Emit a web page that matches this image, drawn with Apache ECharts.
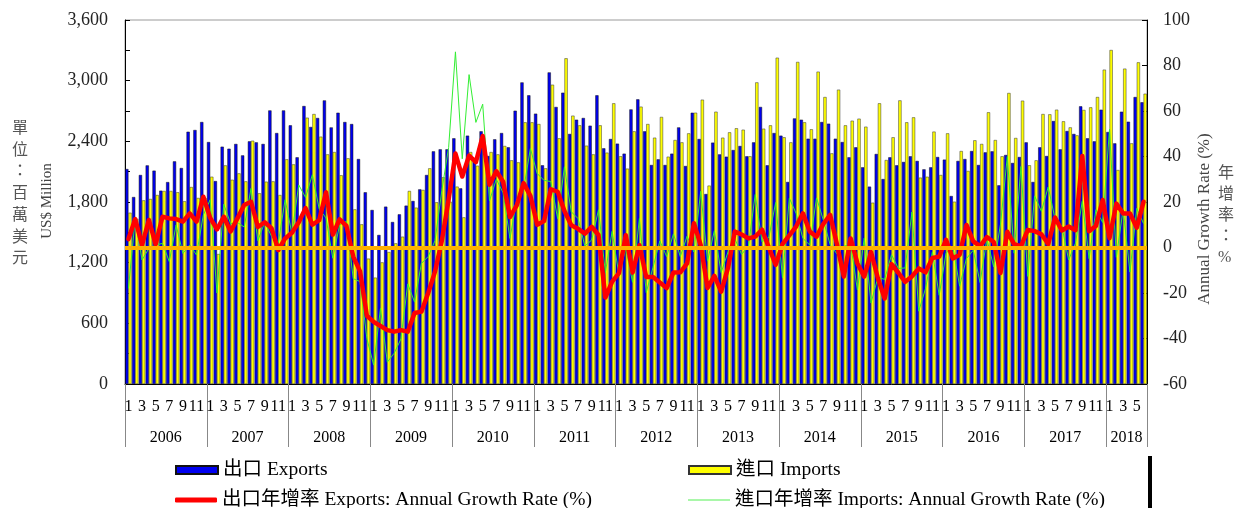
<!DOCTYPE html>
<html>
<head>
<meta charset="utf-8">
<script src="https://cdn.jsdelivr.net/npm/echarts/dist/echarts.min.js"></script>
<style>
html,body{margin:0;padding:0;background:#fff;}
#chart{width:1234px;height:508px;}
</style>
</head>
<body>
<div id="chart"></div>
<script>
// ---- data ----
const years = ['2006','2007','2008','2009','2010','2011','2012','2013','2014','2015','2016','2017','2018'];
const monthsPerYear = [12,12,12,12,12,12,12,12,12,12,12,12,6];

const exportsData = [
 2126,1849,2067,2162,2110,1912,1997,2202,2136,2495,2512,2591,
 2393,2007,2347,2327,2374,2261,2400,2390,2374,2706,2482,2706,
 2558,2242,2749,2542,2631,2805,2538,2683,2591,2571,2225,1896,
 1721,1474,1754,1602,1678,1764,1810,1925,2067,2301,2321,2321,
 2430,1935,2456,2199,2499,2255,2420,2482,2341,2703,2983,2855,
 2674,2163,3082,2740,2881,2473,2614,2631,2555,2855,2331,2423,
 2377,2278,2716,2815,2499,2166,2222,2166,2278,2538,2156,2683,
 2423,1879,2387,2271,2248,2314,2354,2252,2390,2740,2163,2482,
 2456,1998,2627,2614,2426,2426,2591,2575,2426,2393,2242,2341,
 2143,1952,2275,2027,2242,2163,2196,2252,2206,2123,2143,2245,
 2219,1859,2206,2225,2304,2166,2291,2301,1965,2265,2186,2245,
 2390,1998,2341,2255,2601,2321,2502,2473,2746,2430,2400,2713,
 2492,2380,2693,2594,2838,2786];

const importsData = [
 1694,1632,1816,1830,1869,1909,1909,1896,1807,1948,1840,1840,
 2050,1285,2162,2020,2083,2004,2406,1886,2001,2004,1869,2222,
 2172,1640,2634,2670,2446,2271,2294,2064,2232,1727,1579,1240,
 1052,1203,1305,1391,1457,1909,1744,1919,2133,1797,2044,1803,
 1952,1648,2294,2159,2360,2294,2271,2354,2212,2192,2588,2588,
 2571,2133,2960,2430,3221,2654,2558,2357,2271,2558,2288,2776,
 2252,2130,2499,2743,2571,2436,2641,2248,2413,2390,2479,2683,
 2812,1962,2693,2436,2489,2529,2515,2252,2983,2525,2558,3227,
 2440,2390,3185,2588,2519,3089,2838,2281,2911,2558,2604,2624,
 2545,1793,2776,2215,2440,2805,2588,2637,2041,2050,2496,2067,
 2479,1803,2304,2107,2410,2374,2687,2413,2252,2878,2433,2802,
 2163,2212,2670,2667,2713,2598,2538,2459,2710,2736,2838,3109,
 3303,2116,3119,2380,3181,2871];

const exportGrowth = [
 3.7,12.5,1.1,12.1,1.4,13.5,12.8,12.5,11.4,15.0,11.4,22.3,
 13,8,13.5,7,12.8,18.7,20.1,9,11.1,8.5,-1.1,4,
 6.5,11.1,17.3,10,12,24.3,5.7,12.4,9.5,-4,-10.5,-30,
 -32.7,-34.5,-36.3,-37,-36.3,-37,-28.8,-28.2,-20,-10.6,3,21,
 41.3,31.2,40.4,37.5,49,27.6,33.5,28.9,13.4,18.5,28.3,22.7,
 10,11.6,25.6,24.5,16,9.8,8.2,6.1,9.1,5.5,-22,-15,
 -11.3,5.4,-11,1,-13,-13,-15.4,-17.8,-11,-10.9,-7,10.7,
 1,-17.8,-12.5,-19.4,-9,7,5.7,4,4.8,7.8,0,-7.6,
 1.5,5.3,9.2,15,7,4.8,10.4,14.3,1.3,-12.8,4,-7,
 -12.8,-2,-13.5,-22.4,-7.3,-11.1,-15.1,-12.7,-9.2,-10.9,-4.6,-4,
 3.4,-4.8,-3.2,9.9,2.7,0.6,4.6,2.4,-11.2,6.9,1.5,0.5,
 7.7,7.2,5.8,1.5,13.2,7.5,9.2,7.6,40.2,7.1,9.5,20.9,
 4.1,19.3,15,15,8.7,20.1];

const importGrowth = [
 -18,12.5,-5.5,-0.4,1.1,1.8,-6.2,9.9,-2.6,1.1,-3.3,14.3,
 21,-20,19,10.5,11,9,26,3,11,5,2,21,
 6,27.5,22,32,17,13,-4.7,10,11.5,-13.7,-15,-40,
 -51.7,-26.7,-50.4,-46.5,-40.2,-16,-24,-7,-4,3,25,44,
 86,39,76,55,63,20.5,30,24,4,21,25.5,43.5,
 32.5,29.5,29,12.7,35.5,15.7,12.7,0.6,3.3,16.6,-11,7.1,
 -12.2,-0.3,-15.3,12.8,-19.8,-8.7,2.9,-4,6,-4,5,-2,
 24.7,-6,7.4,-11,-2,3.9,-3,0.6,23.3,2.5,4.5,19.8,
 -13.4,21.7,15,4,1.1,21.8,12,1.2,-2.8,0.5,1.5,-18.7,
 4.1,-24.4,-13.2,-14,-3.2,-9.2,-9,15.6,-28,-18,-2,-21,
 -2.6,0.6,-17,-4.9,-1.2,-15.4,3.8,-8.5,10.3,40,-2.5,35.6,
 -12.7,22.7,15.9,26.6,12.6,9.4,-5.5,1.9,20.3,-4.9,16.6,11,
 52,-4.3,16.8,-10.8,17.2,10.5];

const nameExports = '出口 Exports';
const nameImports = '進口 Imports';
const nameExpGrowth = '出口年增率 Exports: Annual Growth Rate (%)';
const nameImpGrowth = '進口年增率 Imports: Annual Growth Rate (%)';

// ---- build categories ----
const categories = [];
const yearStartIdx = [];
years.forEach((y, yi) => {
  yearStartIdx.push(categories.length);
  for (let m = 1; m <= monthsPerYear[yi]; m++) categories.push(y + '/' + m);
});
const yearLabelIdx = {};
years.forEach((y, yi) => { yearLabelIdx[yearStartIdx[yi] + Math.floor(monthsPerYear[yi] / 2)] = true; });

const FONT = '"Liberation Serif", "Times New Roman", "Noto Sans CJK TC", serif';
const legendText = {fontFamily: FONT, fontSize: 19.5, lineHeight: 20, color: '#000'};
function oneLegend(name, left, top, icon, h) {
  return {left: left, top: top, orient: 'horizontal', itemWidth: 42, itemHeight: h, padding: 0,
          textStyle: legendText, data: [{name: name, icon: icon}]};
}

const chart = echarts.init(document.getElementById('chart'), null, {renderer: 'canvas'});
chart.setOption({
  animation: false,
  backgroundColor: '#fff',
  textStyle: {fontFamily: FONT},
  title: [
    {text: '單\n位\n：\n百\n萬\n美\n元', left: 7, top: 113,
     textStyle: {fontFamily: FONT, fontSize: 16, lineHeight: 21.7, fontWeight: 'normal', color: '#555'}},
    {text: '年\n增\n率\n：\n%', left: 1213, top: 158,
     textStyle: {fontFamily: FONT, fontSize: 16, lineHeight: 21, fontWeight: 'normal', color: '#555'}}
  ],
  graphic: [
    {type: 'text', x: 47, y: 201, rotation: Math.PI / 2,
     style: {text: 'US$ Million', font: '15px ' + FONT, fill: '#444', align: 'center', verticalAlign: 'middle'}},
    {type: 'text', x: 1205, y: 219, rotation: Math.PI / 2,
     style: {text: 'Annual Growth Rate (%)', font: '17px ' + FONT, fill: '#444', align: 'center', verticalAlign: 'middle'}},
    {type: 'rect', shape: {x: 1148, y: 456, width: 4, height: 52}, style: {fill: '#000'}}
  ],
  legend: [
    oneLegend(nameExports, 175, 460, 'rect', 8),
    oneLegend(nameExpGrowth, 175, 490, 'roundRect', 5),
    oneLegend(nameImports, 688, 460, 'rect', 8),
    oneLegend(nameImpGrowth, 688, 490, 'rect', 1)
  ],
  grid: {left: 125, right: 87, top: 20, bottom: 124, show: true, borderColor: '#9a9a9a', borderWidth: 1},
  xAxis: [
    {type: 'category', data: categories, position: 'bottom', boundaryGap: true,
     axisLine: {lineStyle: {color: '#000', width: 1}},
     axisTick: {show: true, interval: (i) => i % 12 === 0, length: 63, lineStyle: {color: '#888', width: 1}},
     axisLabel: {interval: (i) => i % 2 === 0, formatter: (v) => v.split('/')[1], margin: 15,
                 fontSize: 16, color: '#000', fontFamily: FONT}},
    {type: 'category', data: categories, position: 'bottom', boundaryGap: true,
     axisLine: {show: false}, axisTick: {show: false},
     axisLabel: {interval: (i) => !!yearLabelIdx[i], formatter: (v) => v.split('/')[0], margin: 46,
                 fontSize: 16, color: '#000', fontFamily: FONT, padding: [0, 7, 0, 0]}}
  ],
  yAxis: [
    {type: 'value', min: 0, max: 3600, interval: 300, position: 'left',
     axisLine: {show: true, lineStyle: {color: '#000'}},
     axisTick: {show: true, inside: true, length: 5, lineStyle: {color: '#000'}},
     axisLabel: {margin: 17, fontSize: 18, color: '#222', fontFamily: FONT,
                 formatter: (v) => v % 600 === 0 ? v.toLocaleString('en-US') : ''},
     splitLine: {show: false}},
    {type: 'value', min: -60, max: 100, interval: 20, position: 'right',
     axisLine: {show: true, lineStyle: {color: '#000'}},
     axisTick: {show: true, inside: true, length: 5, lineStyle: {color: '#000'}},
     axisLabel: {margin: 16, fontSize: 18, color: '#222', fontFamily: FONT},
     splitLine: {show: false}}
  ],
  series: [
    {name: nameExports, type: 'bar', data: exportsData, yAxisIndex: 0, xAxisIndex: 0,
     barGap: '0%', barCategoryGap: '6%',
     itemStyle: {color: '#0000F0', borderColor: '#111', borderWidth: 0.5}},
    {name: nameImports, type: 'bar', data: importsData, yAxisIndex: 0, xAxisIndex: 0,
     barGap: '0%', barCategoryGap: '6%',
     itemStyle: {color: '#FFFF00', borderColor: '#333', borderWidth: 0.5}},
    {name: 'zero', type: 'line', data: [], yAxisIndex: 1, silent: true,
     markLine: {silent: true, symbol: 'none', label: {show: false},
                lineStyle: {color: '#FFB000', width: 4, type: 'solid'},
                data: [{yAxis: 0}]}},
    {name: nameImpGrowth, type: 'line', data: importGrowth, yAxisIndex: 1, symbol: 'none',
     lineStyle: {color: '#33EE33', width: 1}, itemStyle: {color: '#55F055'}},
    {name: nameExpGrowth, type: 'line', data: exportGrowth, yAxisIndex: 1, symbol: 'none',
     lineStyle: {color: '#FF0000', width: 4.5, cap: 'round', join: 'round'}, itemStyle: {color: '#FF0000'}}
  ]
});
</script>
</body>
</html>
